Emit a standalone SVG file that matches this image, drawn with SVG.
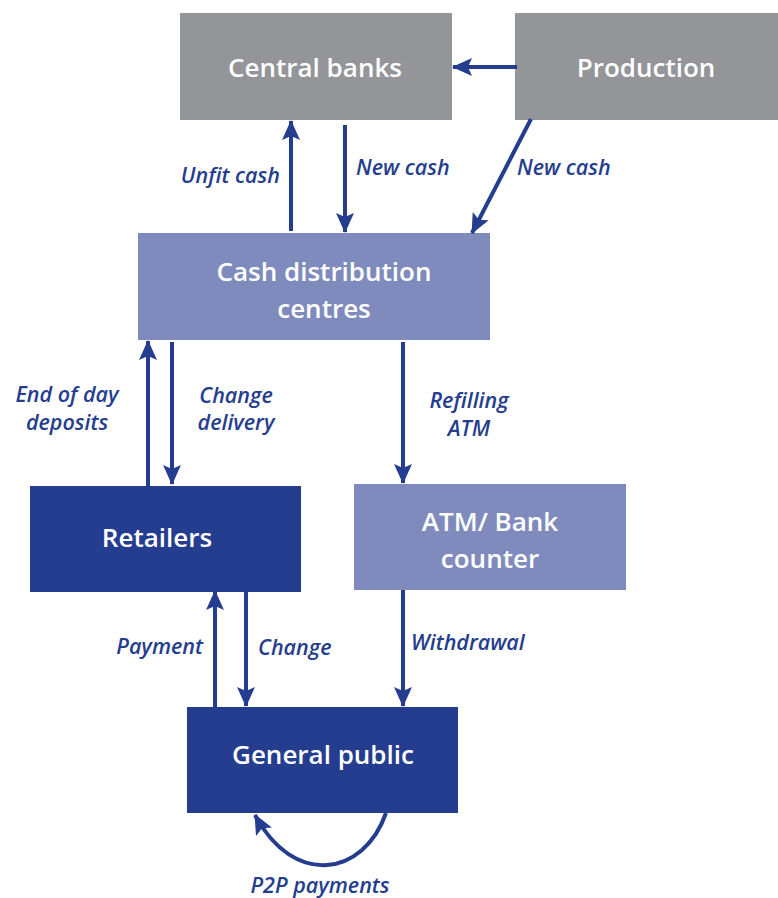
<svg xmlns="http://www.w3.org/2000/svg" width="778" height="898" viewBox="0 0 778 898">
<style>
.gray{fill:#939598}
.light{fill:#7f8bbd}
.dark{fill:#253d8e}
.nt{font-family:"Open Sans","Liberation Sans",sans-serif;font-size:26px;font-weight:600;fill:#fff;text-anchor:middle}
.lb{font-family:"Open Sans","Liberation Sans",sans-serif;font-size:21.5px;font-style:italic;font-weight:600;fill:#253d8e}
.c{fill:none;stroke:#253d8e;stroke-width:4}
</style>
<defs>
<marker id="ah" viewBox="0 0 20 18" refX="19" refY="9" markerWidth="20" markerHeight="18" markerUnits="userSpaceOnUse" orient="auto">
<path d="M0,0 L20,9 L0,18 L4,9 Z" fill="#253d8e"/>
</marker>
</defs>
<rect width="778" height="898" fill="#fff"/>
<g id="central-banks"><rect class="gray" x="180" y="13" width="272" height="107"/><text class="nt" x="315" y="77">Central banks</text></g>
<g id="production"><rect class="gray" x="515" y="13" width="263" height="107"/><text class="nt" x="646" y="77">Production</text></g>
<g id="cash-distribution"><rect class="light" x="138" y="233" width="352" height="107"/><text class="nt" x="324" y="281">Cash distribution</text><text class="nt" x="324" y="318">centres</text></g>
<g id="retailers"><rect class="dark" x="30" y="486" width="271" height="106"/><text class="nt" x="157" y="547">Retailers</text></g>
<g id="atm"><rect class="light" x="354" y="484" width="272" height="106"/><text class="nt" x="490" y="531">ATM/ Bank</text><text class="nt" x="490" y="568">counter</text></g>
<g id="general-public"><rect class="dark" x="187" y="707" width="271" height="106"/><text class="nt" x="323" y="764">General public</text></g>
<g id="connectors">
<line class="c" x1="517" y1="67" x2="453" y2="67" marker-end="url(#ah)"/>
<line class="c" x1="291" y1="231" x2="291" y2="121" marker-end="url(#ah)"/>
<line class="c" x1="345" y1="125" x2="345" y2="232" marker-end="url(#ah)"/>
<line class="c" x1="531" y1="119" x2="472" y2="233" marker-end="url(#ah)"/>
<line class="c" x1="148" y1="486" x2="148" y2="341" marker-end="url(#ah)"/>
<line class="c" x1="172" y1="342" x2="172" y2="484" marker-end="url(#ah)"/>
<line class="c" x1="403" y1="342" x2="403" y2="483" marker-end="url(#ah)"/>
<line class="c" x1="215" y1="707" x2="215" y2="591" marker-end="url(#ah)"/>
<line class="c" x1="246" y1="592" x2="246" y2="706" marker-end="url(#ah)"/>
<line class="c" x1="403" y1="590" x2="403" y2="706" marker-end="url(#ah)"/>
<path class="c" d="M386,813 C364,876 294,888 255,815" marker-end="url(#ah)"/>
</g>
<g id="labels">
<text class="lb" x="280" y="183" text-anchor="end">Unfit cash</text>
<text class="lb" x="356" y="175">New cash</text>
<text class="lb" x="517" y="175">New cash</text>
<text class="lb" x="67" y="402" text-anchor="middle">End of day</text>
<text class="lb" x="67" y="430" text-anchor="middle">deposits</text>
<text class="lb" x="236" y="403" text-anchor="middle">Change</text>
<text class="lb" x="236" y="430" text-anchor="middle">delivery</text>
<text class="lb" x="469" y="408" text-anchor="middle">Refilling</text>
<text class="lb" x="469" y="436" text-anchor="middle">ATM</text>
<text class="lb" x="203" y="654" text-anchor="end">Payment</text>
<text class="lb" x="258" y="655">Change</text>
<text class="lb" x="411" y="650">Withdrawal</text>
<text class="lb" x="320" y="893" text-anchor="middle">P2P payments</text>
</g>
</svg>
